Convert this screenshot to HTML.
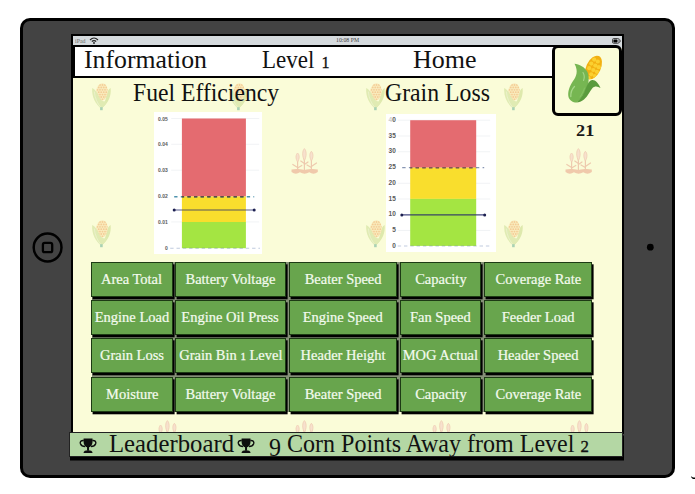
<!DOCTYPE html>
<html><head><meta charset="utf-8">
<style>
html,body{margin:0;padding:0;width:695px;height:494px;overflow:hidden;background:#fff;}
*{box-sizing:border-box;}
.abs{position:absolute;}
body{font-family:"Liberation Serif",serif;position:relative;}
#ipad{position:absolute;left:19.6px;top:17.7px;width:655.4px;height:459.9px;background:#000;border-radius:10px;}
#ipadin{position:absolute;left:22.6px;top:20.5px;width:649.6px;height:454.4px;background:#434343;border-radius:7px;}
#homebtn{position:absolute;left:32px;top:232px;width:31px;height:31px;border:2.4px solid #000;border-radius:50%;}
#homebtn i{position:absolute;left:7.5px;top:7.5px;width:11.5px;height:11.5px;border:2.2px solid #000;border-radius:2px;}
#cam{position:absolute;left:647px;top:244px;width:7px;height:7px;background:#000;border-radius:50%;}
#screen{position:absolute;left:71px;top:34px;width:553px;height:400px;background:#000;}
#scrbg{position:absolute;left:73px;top:36px;width:549px;height:396px;background:#fafcd8;}
#status{position:absolute;left:73px;top:36px;width:549.3px;height:12px;background:#d5dadd;}
#header{position:absolute;left:73px;top:45.2px;width:490px;height:32.6px;background:#fff;border:2px solid #000;}
.htxt{position:absolute;font-size:24px;color:#111;line-height:1;white-space:nowrap;transform-origin:0 0;}
#cornbox{position:absolute;left:551.7px;top:45.2px;width:70.3px;height:70.6px;background:#fafcd8;border:3px solid #000;border-radius:6px;}
.btn span{display:inline-block;transform:scaleX(1.035);-webkit-text-stroke:0.2px #f4fbef;}
.btn{position:absolute;background:#68a54d;border:1px solid #1d3a14;box-shadow:1.6px 2.3px 0 #000;color:#f4fbef;font-size:14px;text-align:center;line-height:34px;white-space:nowrap;}
#lb{position:absolute;left:69.4px;top:431.7px;width:553.6px;height:25px;background:#b4d7a4;border:1px solid #222;box-shadow:1px 3.5px 0 #000;}
.chart{position:absolute;background:#fff;}
.lbl{position:absolute;font-family:"Liberation Sans",sans-serif;font-size:5px;font-weight:bold;color:#5a5a5a;line-height:1;white-space:nowrap;text-align:right;}
.deco{position:absolute;}
</style></head><body>
<svg width="0" height="0" style="position:absolute">
<defs>
<symbol id="corn" viewBox="0 0 30 34">
 <path d="M24.6,9 C25.5,17 22.5,24 15.4,29.8 C18.5,24 20.3,19 20.8,15 C21.3,12.5 22.8,10 24.6,9 Z" fill="#dee9ad"/>
 <defs><clipPath id="cobclip"><ellipse cx="15.8" cy="13" rx="5.9" ry="8.8" transform="rotate(8 15.8 13)"/></clipPath></defs>
 <ellipse cx="15.8" cy="13" rx="5.9" ry="8.8" transform="rotate(8 15.8 13)" fill="#f9ebbd"/>
 <g fill="#f4cd96" clip-path="url(#cobclip)"><circle cx="11.50" cy="6.00" r="0.9"/><circle cx="14.00" cy="6.00" r="0.9"/><circle cx="16.50" cy="6.00" r="0.9"/><circle cx="19.00" cy="6.00" r="0.9"/><circle cx="21.50" cy="6.00" r="0.9"/><circle cx="12.75" cy="8.40" r="0.9"/><circle cx="15.25" cy="8.40" r="0.9"/><circle cx="17.75" cy="8.40" r="0.9"/><circle cx="20.25" cy="8.40" r="0.9"/><circle cx="22.75" cy="8.40" r="0.9"/><circle cx="11.50" cy="10.80" r="0.9"/><circle cx="14.00" cy="10.80" r="0.9"/><circle cx="16.50" cy="10.80" r="0.9"/><circle cx="19.00" cy="10.80" r="0.9"/><circle cx="21.50" cy="10.80" r="0.9"/><circle cx="12.75" cy="13.20" r="0.9"/><circle cx="15.25" cy="13.20" r="0.9"/><circle cx="17.75" cy="13.20" r="0.9"/><circle cx="20.25" cy="13.20" r="0.9"/><circle cx="22.75" cy="13.20" r="0.9"/><circle cx="11.50" cy="15.60" r="0.9"/><circle cx="14.00" cy="15.60" r="0.9"/><circle cx="16.50" cy="15.60" r="0.9"/><circle cx="19.00" cy="15.60" r="0.9"/><circle cx="21.50" cy="15.60" r="0.9"/><circle cx="12.75" cy="18.00" r="0.9"/><circle cx="15.25" cy="18.00" r="0.9"/><circle cx="17.75" cy="18.00" r="0.9"/><circle cx="20.25" cy="18.00" r="0.9"/><circle cx="22.75" cy="18.00" r="0.9"/><circle cx="11.50" cy="20.40" r="0.9"/><circle cx="14.00" cy="20.40" r="0.9"/><circle cx="16.50" cy="20.40" r="0.9"/><circle cx="19.00" cy="20.40" r="0.9"/><circle cx="21.50" cy="20.40" r="0.9"/></g>
 <path d="M6.2,9 C9,10 11.3,13.5 12.8,17.5 C14.3,21.2 17,23 21,22.5 C19.5,25.5 17.5,27.8 15.4,29.8 C9.5,25 5.5,18 6.2,9 Z" fill="#e0ebb3"/>
 <path d="M8.3,12.5 C8.8,19 11.5,24.5 14.8,28.5" stroke="#ebf2cc" stroke-width="0.9" fill="none"/>
 <path d="M14.1,28.2 h2.6 v3 h-2.6 Z" fill="#a9d2b4"/>
</symbol>
<symbol id="wheat" viewBox="0 0 38 34">
 <g stroke="#eecaae" stroke-width="1.2" fill="none" stroke-linecap="round">
  <path d="M18.4,14 V27"/><path d="M11.6,16 V27"/><path d="M25.4,15 V27"/>
  <path d="M18.4,19.5 L14.8,17"/><path d="M18.4,20.5 L22,18"/>
  <path d="M11.6,23.5 L6.8,20.5"/><path d="M11.6,24 L15.8,21.5"/>
  <path d="M25.4,23.5 L21,21"/><path d="M25.4,22.5 L30.5,19"/>
 </g>
 <g fill="#f7e1cd" stroke="#efcdb2" stroke-width="0.8">
  <path d="M18.4,4.6 C20.6,6.8 20.8,12 18.4,16.8 C16,12 16.2,6.8 18.4,4.6 Z"/>
  <path d="M11.6,9 C13.6,10.8 13.8,14.5 11.6,18 C9.4,14.5 9.6,10.8 11.6,9 Z"/>
  <path d="M25.4,7.3 C27.4,9.3 27.6,13 25.4,17 C23.2,13 23.4,9.3 25.4,7.3 Z"/>
 </g>
 <path d="M5.5,25.5 C9,24.7 13,24.7 18.4,26 C24,24.7 28,24.7 31.8,25.5 L31.8,28 Q27.6,31.2 23.3,28.3 Q18.6,31.2 13.9,28.3 Q9.7,31.2 5.5,28 Z" fill="#f0c9ab"/>
</symbol>
<symbol id="trophy" viewBox="0 0 18 16">
 <path d="M4.4,0.4 H13.7 V4 C13.7,7.6 11.6,9.9 9.05,9.9 C6.5,9.9 4.4,7.6 4.4,4 Z" fill="#0d0d0d"/>
 <path d="M4.6,2.6 C1.6,2.3 0.4,3.9 1.1,6 C1.8,7.9 3.6,8.9 6,8.9" stroke="#0d0d0d" stroke-width="1.5" fill="none"/>
 <path d="M13.5,2.6 C16.5,2.3 17.7,3.9 17,6 C16.3,7.9 14.5,8.9 12.1,8.9" stroke="#0d0d0d" stroke-width="1.5" fill="none"/>
 <rect x="8" y="9.4" width="2.1" height="3.8" fill="#0d0d0d"/>
 <path d="M4.3,15.9 C4.3,13.6 6.3,12.8 9.05,12.8 C11.8,12.8 13.8,13.6 13.8,15.9 Z" fill="#0d0d0d"/>
</symbol>
</defs>
</svg>
<div id="ipad"></div><div id="ipadin"></div>
<svg class="abs" style="left:25px;top:225px" width="45" height="45" viewBox="0 0 45 45"><circle cx="22.6" cy="22.5" r="13.9" fill="none" stroke="#000" stroke-width="2.5"/><rect x="17.9" y="17.9" width="9.3" height="9.3" rx="1.8" fill="none" stroke="#000" stroke-width="2.3"/></svg>
<svg class="abs" style="left:640px;top:235px" width="22" height="22"><circle cx="10.3" cy="12.2" r="3.4" fill="#000"/></svg>
<div id="screen"></div>
<div id="scrbg"></div>
<!-- decorations -->
<svg class="deco" style="left:86px;top:79px" width="30" height="34"><use href="#corn"/></svg>
<svg class="deco" style="left:223px;top:79px" width="30" height="34"><use href="#corn"/></svg>
<svg class="deco" style="left:360px;top:79px" width="30" height="34"><use href="#corn"/></svg>
<svg class="deco" style="left:498px;top:79px" width="30" height="34"><use href="#corn"/></svg>
<svg class="deco" style="left:86px;top:216px" width="30" height="34"><use href="#corn"/></svg>
<svg class="deco" style="left:360px;top:216px" width="30" height="34"><use href="#corn"/></svg>
<svg class="deco" style="left:498px;top:216px" width="30" height="34"><use href="#corn"/></svg>
<svg class="deco" style="left:286px;top:144px" width="38" height="34"><use href="#wheat"/></svg>
<svg class="deco" style="left:560px;top:144px" width="38" height="34"><use href="#wheat"/></svg>
<svg class="deco" style="left:148.6px;top:416.4px" width="38" height="34"><use href="#wheat"/></svg>
<svg class="deco" style="left:286px;top:416.4px" width="38" height="34"><use href="#wheat"/></svg>
<svg class="deco" style="left:423.2px;top:416.4px" width="38" height="34"><use href="#wheat"/></svg>
<svg class="deco" style="left:560.7px;top:416.4px" width="38" height="34"><use href="#wheat"/></svg>

<div id="status"></div>
<div class="abs" style="left:75px;top:37.8px;font-family:'Liberation Serif',serif;font-size:6.6px;color:#6a6a6a;line-height:1;transform:scaleX(0.9);transform-origin:0 0;">iPad</div>
<svg class="abs" style="left:89px;top:37px" width="10" height="7" viewBox="0 0 10 7">
 <path d="M1,3 C3.5,0.5 6.5,0.5 9,3" stroke="#222" stroke-width="1.1" fill="none"/>
 <path d="M2.8,4.5 C4,3.3 6,3.3 7.2,4.5" stroke="#222" stroke-width="1.1" fill="none"/>
 <circle cx="5" cy="6" r="0.9" fill="#222"/>
</svg>
<div class="abs" style="left:336px;top:38.3px;font-family:'Liberation Serif',serif;font-size:5.8px;color:#444;line-height:1;">10:08 PM</div>
<svg class="abs" style="left:610px;top:36px" width="12" height="9" viewBox="610 36 12 9">
 <rect x="612.5" y="38.5" width="6.6" height="4.8" rx="1.3" fill="none" stroke="#3a3a3a" stroke-width="0.9"/>
 <rect x="613.4" y="39.4" width="4.1" height="3" rx="0.6" fill="#000"/>
 <path d="M619.3,39.2 C620.8,39.6 621,42.2 619.3,42.6" stroke="#555" stroke-width="0.8" fill="none"/>
</svg>

<div id="header"></div>
<div class="htxt" style="left:83.5px;top:46.9px;font-size:25px;transform:scaleX(1.03)">Information</div>
<div class="htxt" style="left:262.2px;top:46.9px;font-size:25px;transform:scaleX(0.92)">Level <span style="font-size:17.5px;-webkit-text-stroke:0.35px #111;margin-left:1.5px">1</span></div>
<div class="htxt" style="left:413px;top:46.9px;font-size:25px;transform:scaleX(1.04)">Home</div>
<div id="cornbox"></div>
<svg class="abs" style="left:560px;top:50px" width="50" height="60" viewBox="560 50 50 60">
 <defs><clipPath id="bigcob"><ellipse cx="593.5" cy="67.5" rx="7.3" ry="12.6" transform="rotate(25 593.5 67.5)"/></clipPath></defs>
 <ellipse cx="593.5" cy="67.5" rx="7.3" ry="12.6" transform="rotate(25 593.5 67.5)" fill="#f2b012"/>
 <g fill="#fbd030" clip-path="url(#bigcob)"><circle cx="594.2" cy="59.6" r="2.1"/><circle cx="597.8" cy="61.5" r="2.1"/><circle cx="591.3" cy="63.6" r="2.1"/><circle cx="595.3" cy="65.6" r="2.1"/><circle cx="598.8" cy="67.2" r="2.1"/><circle cx="589.2" cy="68.2" r="2.1"/><circle cx="593.3" cy="70.0" r="2.1"/><circle cx="596.9" cy="71.8" r="2.1"/><circle cx="591.2" cy="74.3" r="2.1"/><circle cx="594.8" cy="76.0" r="2.1"/><circle cx="588.6" cy="78.2" r="2.1"/></g>
 <path d="M574.5,63.8 C579,64.3 585,67 587.5,72 C589.5,77 589,84 586,90 C583,96 579.5,100.5 576.5,102.5 C573,102.5 569.5,100.5 568.5,97 C567.5,92 569.5,86 573,81 C576,77 578.8,71.5 574.5,63.8 Z" fill="#76b652"/>
 <path d="M576.5,102.5 C580.5,99 584,94 586,88 C587.5,83.5 589.5,80.5 592,80 C595,79.5 598.5,83 600.5,88 C597.5,86 594.5,86 592.5,88 C590,91 588,96 584,99.5 C581.5,101.5 579,102.5 576.5,102.5 Z" fill="#5a9b3d"/>
 <path d="M570.8,96.5 C570.6,92.5 572,89 574.5,86.5" stroke="#a6d789" stroke-width="1.3" fill="none" stroke-linecap="round"/>
 <path d="M583,72.5 C584.5,75 584.5,78 583.6,80.5" stroke="#a6d789" stroke-width="1.1" fill="none" stroke-linecap="round"/>
 <path d="M580,97 C582,94 583.5,91 584.5,88" stroke="#86c265" stroke-width="0.9" fill="none" stroke-linecap="round"/>
</svg>
<div class="htxt" style="left:132.5px;top:80.8px;font-size:24.5px;transform:scaleX(0.966)">Fuel Efficiency</div>
<div class="htxt" style="left:385px;top:80.8px;font-size:24.5px;transform:scaleX(0.97)">Grain Loss</div>
<div class="abs" style="left:576px;top:122.5px;font-size:16.6px;font-weight:bold;color:#1a1a1a;line-height:1;transform:scaleX(1.1);transform-origin:0 0;">21</div>

<!-- chart 1 -->
<div class="chart" style="left:153.8px;top:112px;width:108.6px;height:141.5px;">
 <svg class="abs" style="left:0;top:0" width="108.6" height="141.5" viewBox="153.8 112 108.6 141.5">
  <g stroke="#eef0f2" stroke-width="0.8">
   <line x1="171" y1="118.5" x2="259" y2="118.5"/><line x1="171" y1="144.3" x2="259" y2="144.3"/>
   <line x1="171" y1="170.2" x2="259" y2="170.2"/><line x1="171" y1="221.9" x2="259" y2="221.9"/>
  </g>
  <rect x="181.7" y="118.5" width="64" height="78" fill="#e46b70"/>
  <rect x="181.7" y="196.5" width="64" height="25.5" fill="#f9de2d"/>
  <rect x="181.7" y="222" width="64" height="26.2" fill="#a4e542"/>
  <line x1="174" y1="196.8" x2="254" y2="196.8" stroke="#2f80a0" stroke-opacity="0.85" stroke-width="1.6" stroke-dasharray="3.3,3.3"/>
  <line x1="181.7" y1="196.8" x2="245.7" y2="196.8" stroke="#5a4c40" stroke-width="1.6" stroke-dasharray="3.3,3.3" stroke-dashoffset="1.1"/>
  <line x1="170" y1="248.2" x2="259.8" y2="248.2" stroke="#4a6aa0" stroke-opacity="0.35" stroke-width="1.1" stroke-dasharray="3.4,2.9"/>
  <line x1="174" y1="210" x2="254" y2="210" stroke="#23286a" stroke-opacity="0.5" stroke-width="1.4"/>
  <circle cx="174" cy="210" r="1.5" fill="#1c1f50"/><circle cx="254" cy="210" r="1.5" fill="#1c1f50"/>
 </svg>
 <div class="lbl" style="left:2px;top:4.5px;width:12px;">0.05</div>
 <div class="lbl" style="left:2px;top:30.3px;width:12px;">0.04</div>
 <div class="lbl" style="left:2px;top:56.2px;width:12px;">0.03</div>
 <div class="lbl" style="left:2px;top:82px;width:12px;">0.02</div>
 <div class="lbl" style="left:2px;top:107.9px;width:12px;">0.01</div>
 <div class="lbl" style="left:2px;top:133.5px;width:12px;">0</div>
</div>

<!-- chart 2 -->
<div class="chart" style="left:385.8px;top:113.5px;width:110.2px;height:138.5px;">
 <svg class="abs" style="left:0;top:0" width="110.2" height="138.5" viewBox="385.8 113.5 110.2 138.5">
  <g stroke="#eef0f2" stroke-width="0.8">
   <line x1="397.5" y1="119.7" x2="490" y2="119.7"/><line x1="397.5" y1="135.5" x2="490" y2="135.5"/>
   <line x1="397.5" y1="151.2" x2="490" y2="151.2"/><line x1="397.5" y1="182.8" x2="490" y2="182.8"/>
   <line x1="397.5" y1="198.5" x2="490" y2="198.5"/><line x1="397.5" y1="230" x2="490" y2="230"/>
  </g>
  <rect x="410" y="119.7" width="66" height="47.5" fill="#e46b70"/>
  <rect x="410" y="167.2" width="66" height="31.2" fill="#f9de2d"/>
  <rect x="410" y="198.4" width="66" height="47" fill="#a4e542"/>
  <line x1="402" y1="167.2" x2="484" y2="167.2" stroke="#6a7ca0" stroke-opacity="0.8" stroke-width="1.3" stroke-dasharray="3.4,3.3"/>
  <line x1="410" y1="167.2" x2="476" y2="167.2" stroke="#86584a" stroke-width="1.4" stroke-dasharray="3.4,3.3" stroke-dashoffset="1.3"/>
  <line x1="397.5" y1="245.5" x2="490" y2="245.5" stroke="#4a6aa0" stroke-opacity="0.35" stroke-width="1.1" stroke-dasharray="3.4,2.9"/>
  <line x1="401.6" y1="214.4" x2="484.5" y2="214.4" stroke="#23286a" stroke-opacity="0.85" stroke-width="1.4"/>
  <circle cx="401.6" cy="214.4" r="1.5" fill="#1c1f50"/><circle cx="484.5" cy="214.4" r="1.5" fill="#1c1f50"/>
 </svg>
 <div class="lbl" style="left:0px;top:3.2px;width:10px;font-size:6.5px;"><span style="color:#ccc">4</span>0</div>
 <div class="lbl" style="left:0px;top:19.0px;width:10px;font-size:6.5px;">35</div>
 <div class="lbl" style="left:0px;top:34.7px;width:10px;font-size:6.5px;">30</div>
 <div class="lbl" style="left:0px;top:50.5px;width:10px;font-size:6.5px;">25</div>
 <div class="lbl" style="left:0px;top:66.3px;width:10px;font-size:6.5px;">20</div>
 <div class="lbl" style="left:0px;top:82.0px;width:10px;font-size:6.5px;">15</div>
 <div class="lbl" style="left:0px;top:97.9px;width:10px;font-size:6.5px;">10</div>
 <div class="lbl" style="left:0px;top:113.5px;width:10px;font-size:6.5px;">5</div>
 <div class="lbl" style="left:0px;top:129.3px;width:10px;font-size:6.5px;">0</div>
</div>

<div class="abs" style="left:91.5px;top:262px;width:500px;height:149.5px;background:#859077;"></div>
<div class="btn" style="left:91px;top:261.6px;width:82px;height:35.1px;"><span>Area Total</span></div>
<div class="btn" style="left:175px;top:261.6px;width:111px;height:35.1px;"><span>Battery Voltage</span></div>
<div class="btn" style="left:289px;top:261.6px;width:108px;height:35.1px;"><span>Beater Speed</span></div>
<div class="btn" style="left:400px;top:261.6px;width:81px;height:35.1px;"><span>Capacity</span></div>
<div class="btn" style="left:484px;top:261.6px;width:108px;height:35.1px;"><span>Coverage Rate</span></div>

<div class="btn" style="left:91px;top:300px;width:82px;height:35.1px;"><span>Engine Load</span></div>
<div class="btn" style="left:175px;top:300px;width:111px;height:35.1px;"><span>Engine Oil Press</span></div>
<div class="btn" style="left:289px;top:300px;width:108px;height:35.1px;"><span>Engine Speed</span></div>
<div class="btn" style="left:400px;top:300px;width:81px;height:35.1px;"><span>Fan Speed</span></div>
<div class="btn" style="left:484px;top:300px;width:108px;height:35.1px;"><span>Feeder Load</span></div>

<div class="btn" style="left:91px;top:338.3px;width:82px;height:35.1px;"><span>Grain Loss</span></div>
<div class="btn" style="left:175px;top:338.3px;width:111px;height:35.1px;"><span>Grain Bin <span style="font-size:10.5px;-webkit-text-stroke:0.3px #f4fbef;transform:none;display:inline">1</span> Level</span></div>
<div class="btn" style="left:289px;top:338.3px;width:108px;height:35.1px;"><span>Header Height</span></div>
<div class="btn" style="left:400px;top:338.3px;width:81px;height:35.1px;"><span>MOG Actual</span></div>
<div class="btn" style="left:484px;top:338.3px;width:108px;height:35.1px;"><span>Header Speed</span></div>

<div class="btn" style="left:91px;top:376.7px;width:82px;height:35.1px;"><span>Moisture</span></div>
<div class="btn" style="left:175px;top:376.7px;width:111px;height:35.1px;"><span>Battery Voltage</span></div>
<div class="btn" style="left:289px;top:376.7px;width:108px;height:35.1px;"><span>Beater Speed</span></div>
<div class="btn" style="left:400px;top:376.7px;width:81px;height:35.1px;"><span>Capacity</span></div>
<div class="btn" style="left:484px;top:376.7px;width:108px;height:35.1px;"><span>Coverage Rate</span></div>

<div id="lb"></div>
<svg class="abs" style="left:79px;top:437.6px" width="18" height="15.3"><use href="#trophy" preserveAspectRatio="none"/></svg>
<div class="htxt" style="left:108.5px;top:431px;font-size:25px;transform:scaleX(0.99)">Leaderboard</div>
<svg class="abs" style="left:237px;top:437.6px" width="18" height="15.3"><use href="#trophy" preserveAspectRatio="none"/></svg>
<div class="htxt" style="left:269px;top:431px;font-size:25px;transform:scaleX(0.961)"><span style="position:relative;top:4px">9</span> Corn Points Away from Level <span style="font-size:17.5px;-webkit-text-stroke:0.35px #111">2</span></div>
<svg class="abs" style="left:685px;top:470px" width="10" height="12" viewBox="685 470 10 12"><path d="M690.9,475.9 C692,477.2 693.5,477.6 695,477.5 L695,479.1 C693,479.3 691.4,478.3 690.9,475.9 Z" fill="#000"/></svg>
</body></html>
